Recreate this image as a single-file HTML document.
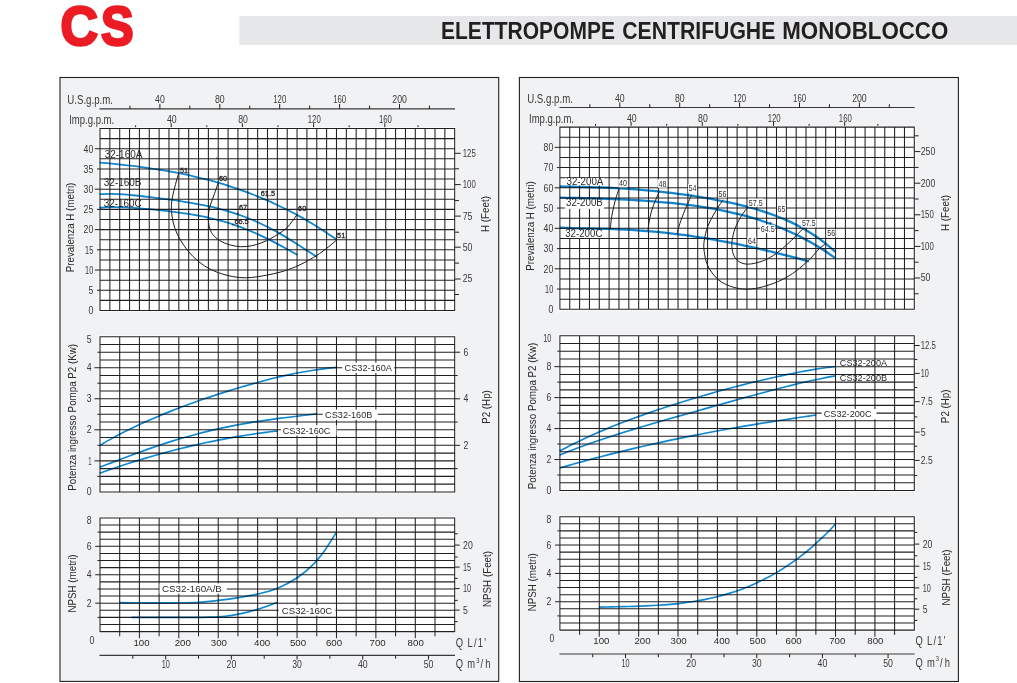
<!DOCTYPE html>
<html><head><meta charset="utf-8"><title>CS - Elettropompe centrifughe monoblocco</title>
<style>html,body{margin:0;padding:0;background:#fff}svg{display:block}text{font-family:"Liberation Sans",sans-serif}</style></head><body>
<svg width="1017" height="683" viewBox="0 0 1017 683">
<rect width="1017" height="683" fill="#fff"/>
<rect x="239.3" y="15.9" width="777.7" height="28.9" fill="#e6e7e8"/>
<text y="44.6" font-size="54.8" font-weight="bold" fill="#ec1c24" stroke="#ec1c24" stroke-width="2.6" stroke-linejoin="miter"><tspan x="60.6" textLength="37.5" lengthAdjust="spacingAndGlyphs">C</tspan><tspan x="101.0" textLength="32.6" lengthAdjust="spacingAndGlyphs">S</tspan></text>
<text font-size="23.8" font-weight="bold" fill="#231f20" y="38.7"><tspan x="441.0" textLength="174.0" lengthAdjust="spacingAndGlyphs">ELETTROPOMPE</tspan> <tspan x="622.3" textLength="153.0" lengthAdjust="spacingAndGlyphs">CENTRIFUGHE</tspan> <tspan x="782.3" textLength="166.0" lengthAdjust="spacingAndGlyphs">MONOBLOCCO</tspan></text>
<rect x="60" y="77.5" width="438.7" height="603.9" fill="#f1f2f4" stroke="#231f20" stroke-width="1.1"/>
<line x1="99.5" y1="108.9" x2="455" y2="108.9" stroke="#3a3838" stroke-width="1.2"/>
<line x1="129.95" y1="108.9" x2="129.95" y2="105.6" stroke="#231f20" stroke-width="1.0"/>
<line x1="159.9" y1="108.9" x2="159.9" y2="103.9" stroke="#231f20" stroke-width="1.0"/>
<text transform="translate(155.1 102.96)" font-size="10.6" text-anchor="start" fill="#3b3938" textLength="9.7" lengthAdjust="spacingAndGlyphs">40</text>
<line x1="189.85" y1="108.9" x2="189.85" y2="105.6" stroke="#231f20" stroke-width="1.0"/>
<line x1="219.8" y1="108.9" x2="219.8" y2="103.9" stroke="#231f20" stroke-width="1.0"/>
<text transform="translate(215 102.96)" font-size="10.6" text-anchor="start" fill="#3b3938" textLength="9.7" lengthAdjust="spacingAndGlyphs">80</text>
<line x1="249.75" y1="108.9" x2="249.75" y2="105.6" stroke="#231f20" stroke-width="1.0"/>
<line x1="279.7" y1="108.9" x2="279.7" y2="103.9" stroke="#231f20" stroke-width="1.0"/>
<text transform="translate(273.25 102.96)" font-size="10.6" text-anchor="start" fill="#3b3938" textLength="13" lengthAdjust="spacingAndGlyphs">120</text>
<line x1="309.65" y1="108.9" x2="309.65" y2="105.6" stroke="#231f20" stroke-width="1.0"/>
<line x1="339.6" y1="108.9" x2="339.6" y2="103.9" stroke="#231f20" stroke-width="1.0"/>
<text transform="translate(333.15 102.96)" font-size="10.6" text-anchor="start" fill="#3b3938" textLength="13" lengthAdjust="spacingAndGlyphs">160</text>
<line x1="369.55" y1="108.9" x2="369.55" y2="105.6" stroke="#231f20" stroke-width="1.0"/>
<line x1="399.5" y1="108.9" x2="399.5" y2="103.9" stroke="#231f20" stroke-width="1.0"/>
<text transform="translate(392.28 102.96)" font-size="10.6" text-anchor="start" fill="#3b3938" textLength="14.55" lengthAdjust="spacingAndGlyphs">200</text>
<line x1="429.45" y1="108.9" x2="429.45" y2="105.6" stroke="#231f20" stroke-width="1.0"/>
<text transform="translate(67.3 103.9)" font-size="12.3" text-anchor="start" fill="#3b3938" textLength="45.7" lengthAdjust="spacingAndGlyphs">U.S.g.p.m.</text>
<text transform="translate(69.2 124.2)" font-size="12.3" text-anchor="start" fill="#3b3938" textLength="45" lengthAdjust="spacingAndGlyphs">Imp.g.p.m.</text>
<line x1="135.6" y1="128.5" x2="135.6" y2="125.3" stroke="#231f20" stroke-width="1.0"/>
<line x1="171.2" y1="128.5" x2="171.2" y2="123.3" stroke="#231f20" stroke-width="1.0"/>
<text transform="translate(167 123.01)" font-size="10.6" text-anchor="start" fill="#3b3938" textLength="9.7" lengthAdjust="spacingAndGlyphs">40</text>
<line x1="206.8" y1="128.5" x2="206.8" y2="125.3" stroke="#231f20" stroke-width="1.0"/>
<line x1="242.4" y1="128.5" x2="242.4" y2="123.3" stroke="#231f20" stroke-width="1.0"/>
<text transform="translate(238.2 123.01)" font-size="10.6" text-anchor="start" fill="#3b3938" textLength="9.7" lengthAdjust="spacingAndGlyphs">80</text>
<line x1="278" y1="128.5" x2="278" y2="125.3" stroke="#231f20" stroke-width="1.0"/>
<line x1="313.6" y1="128.5" x2="313.6" y2="123.3" stroke="#231f20" stroke-width="1.0"/>
<text transform="translate(307.75 123.01)" font-size="10.6" text-anchor="start" fill="#3b3938" textLength="13" lengthAdjust="spacingAndGlyphs">120</text>
<line x1="349.2" y1="128.5" x2="349.2" y2="125.3" stroke="#231f20" stroke-width="1.0"/>
<line x1="384.8" y1="128.5" x2="384.8" y2="123.3" stroke="#231f20" stroke-width="1.0"/>
<text transform="translate(378.95 123.01)" font-size="10.6" text-anchor="start" fill="#3b3938" textLength="13" lengthAdjust="spacingAndGlyphs">160</text>
<line x1="418" y1="128.5" x2="418" y2="125.3" stroke="#231f20" stroke-width="1.0"/>
<rect x="98.7" y="127.2" width="357.3" height="184.6" fill="#fff"/>
<text transform="translate(104.7 157.7)" font-size="10" text-anchor="start" fill="#2b2a29" textLength="37.7" lengthAdjust="spacingAndGlyphs">32-160A</text>
<text transform="translate(103.8 186.4)" font-size="10" text-anchor="start" fill="#2b2a29" textLength="37.7" lengthAdjust="spacingAndGlyphs">32-160B</text>
<text transform="translate(103.8 206.9)" font-size="10" text-anchor="start" fill="#2b2a29" textLength="37.9" lengthAdjust="spacingAndGlyphs">32-160C</text>
<path d="M100 128V311M109.85 128V311M119.71 128V311M129.56 128V311M139.41 128V311M149.26 128V311M159.12 128V311M168.97 128V311M178.82 128V311M188.68 128V311M198.53 128V311M208.38 128V311M218.23 128V311M228.09 128V311M237.94 128V311M247.79 128V311M257.64 128V311M267.5 128V311M277.35 128V311M287.2 128V311M297.06 128V311M306.91 128V311M316.76 128V311M326.61 128V311M336.47 128V311M346.32 128V311M356.17 128V311M366.02 128V311M375.88 128V311M385.73 128V311M395.58 128V311M405.44 128V311M415.29 128V311M425.14 128V311M434.99 128V311M444.85 128V311M454.7 128V311M99.5 128.5H455.2M99.5 138.61H455.2M99.5 148.72H455.2M99.5 158.83H455.2M99.5 168.94H455.2M99.5 179.06H455.2M99.5 189.17H455.2M99.5 199.28H455.2M99.5 209.39H455.2M99.5 219.5H455.2M99.5 229.61H455.2M99.5 239.72H455.2M99.5 249.83H455.2M99.5 259.94H455.2M99.5 270.06H455.2M99.5 280.17H455.2M99.5 290.28H455.2M99.5 300.39H455.2M99.5 310.5H455.2" stroke="#231f20" stroke-width="1.05" fill="none"/>
<rect x="98.7" y="335.4" width="357.3" height="157.8" fill="#fff"/>
<path d="M100 336.2V492.4M119.71 336.2V492.4M139.41 336.2V492.4M159.12 336.2V492.4M178.82 336.2V492.4M198.53 336.2V492.4M218.23 336.2V492.4M237.94 336.2V492.4M257.64 336.2V492.4M277.35 336.2V492.4M297.06 336.2V492.4M316.76 336.2V492.4M336.47 336.2V492.4M356.17 336.2V492.4M375.88 336.2V492.4M395.58 336.2V492.4M415.29 336.2V492.4M434.99 336.2V492.4M454.7 336.2V492.4M99.5 336.7H455.2M99.5 344.46H455.2M99.5 352.22H455.2M99.5 359.98H455.2M99.5 367.74H455.2M99.5 375.5H455.2M99.5 383.26H455.2M99.5 391.02H455.2M99.5 398.78H455.2M99.5 406.54H455.2M99.5 414.3H455.2M99.5 422.06H455.2M99.5 429.82H455.2M99.5 437.58H455.2M99.5 445.34H455.2M99.5 453.1H455.2M99.5 460.86H455.2M99.5 468.62H455.2M99.5 476.38H455.2M99.5 484.14H455.2M99.5 491.9H455.2" stroke="#231f20" stroke-width="1.05" fill="none"/>
<rect x="98.7" y="516.6" width="357.3" height="116.3" fill="#fff"/>
<path d="M100 517.4V632.1M119.71 517.4V632.1M139.41 517.4V632.1M159.12 517.4V632.1M178.82 517.4V632.1M198.53 517.4V632.1M218.23 517.4V632.1M237.94 517.4V632.1M257.64 517.4V632.1M277.35 517.4V632.1M297.06 517.4V632.1M316.76 517.4V632.1M336.47 517.4V632.1M356.17 517.4V632.1M375.88 517.4V632.1M395.58 517.4V632.1M415.29 517.4V632.1M434.99 517.4V632.1M454.7 517.4V632.1M99.5 517.9H455.2M99.5 525.01H455.2M99.5 532.11H455.2M99.5 539.22H455.2M99.5 546.33H455.2M99.5 553.43H455.2M99.5 560.54H455.2M99.5 567.64H455.2M99.5 574.75H455.2M99.5 581.86H455.2M99.5 588.96H455.2M99.5 596.07H455.2M99.5 603.17H455.2M99.5 610.28H455.2M99.5 617.39H455.2M99.5 624.49H455.2M99.5 631.6H455.2" stroke="#231f20" stroke-width="1.05" fill="none"/>
<line x1="94.8" y1="148.72" x2="100" y2="148.72" stroke="#231f20" stroke-width="1.0"/>
<text transform="translate(83.55 152.58)" font-size="10.6" text-anchor="start" fill="#3b3938" textLength="9.7" lengthAdjust="spacingAndGlyphs">40</text>
<line x1="97" y1="168.94" x2="100" y2="168.94" stroke="#231f20" stroke-width="1.0"/>
<text transform="translate(83.55 172.8)" font-size="10.6" text-anchor="start" fill="#3b3938" textLength="9.7" lengthAdjust="spacingAndGlyphs">35</text>
<line x1="94.8" y1="189.17" x2="100" y2="189.17" stroke="#231f20" stroke-width="1.0"/>
<text transform="translate(83.55 193.02)" font-size="10.6" text-anchor="start" fill="#3b3938" textLength="9.7" lengthAdjust="spacingAndGlyphs">30</text>
<line x1="97" y1="209.39" x2="100" y2="209.39" stroke="#231f20" stroke-width="1.0"/>
<text transform="translate(83.55 213.25)" font-size="10.6" text-anchor="start" fill="#3b3938" textLength="9.7" lengthAdjust="spacingAndGlyphs">25</text>
<line x1="94.8" y1="229.61" x2="100" y2="229.61" stroke="#231f20" stroke-width="1.0"/>
<text transform="translate(83.55 233.47)" font-size="10.6" text-anchor="start" fill="#3b3938" textLength="9.7" lengthAdjust="spacingAndGlyphs">20</text>
<line x1="97" y1="249.83" x2="100" y2="249.83" stroke="#231f20" stroke-width="1.0"/>
<text transform="translate(85.1 253.69)" font-size="10.6" text-anchor="start" fill="#3b3938" textLength="8.15" lengthAdjust="spacingAndGlyphs">15</text>
<line x1="94.8" y1="270.06" x2="100" y2="270.06" stroke="#231f20" stroke-width="1.0"/>
<text transform="translate(85.1 273.91)" font-size="10.6" text-anchor="start" fill="#3b3938" textLength="8.15" lengthAdjust="spacingAndGlyphs">10</text>
<line x1="97" y1="290.28" x2="100" y2="290.28" stroke="#231f20" stroke-width="1.0"/>
<text transform="translate(88.4 294.13)" font-size="10.6" text-anchor="start" fill="#3b3938" textLength="4.85" lengthAdjust="spacingAndGlyphs">5</text>
<text transform="translate(88.4 314.36)" font-size="10.6" text-anchor="start" fill="#3b3938" textLength="4.85" lengthAdjust="spacingAndGlyphs">0</text>
<text transform="translate(86.8 342.76)" font-size="10.6" text-anchor="start" fill="#3b3938" textLength="4.85" lengthAdjust="spacingAndGlyphs">5</text>
<line x1="97.4" y1="352.22" x2="100" y2="352.22" stroke="#231f20" stroke-width="1.0"/>
<line x1="94.4" y1="367.74" x2="100" y2="367.74" stroke="#231f20" stroke-width="1.0"/>
<text transform="translate(86.8 371.4)" font-size="10.6" text-anchor="start" fill="#3b3938" textLength="4.85" lengthAdjust="spacingAndGlyphs">4</text>
<line x1="97.4" y1="383.26" x2="100" y2="383.26" stroke="#231f20" stroke-width="1.0"/>
<line x1="94.4" y1="398.78" x2="100" y2="398.78" stroke="#231f20" stroke-width="1.0"/>
<text transform="translate(86.8 402.44)" font-size="10.6" text-anchor="start" fill="#3b3938" textLength="4.85" lengthAdjust="spacingAndGlyphs">3</text>
<line x1="97.4" y1="414.3" x2="100" y2="414.3" stroke="#231f20" stroke-width="1.0"/>
<line x1="94.4" y1="429.82" x2="100" y2="429.82" stroke="#231f20" stroke-width="1.0"/>
<text transform="translate(86.8 433.48)" font-size="10.6" text-anchor="start" fill="#3b3938" textLength="4.85" lengthAdjust="spacingAndGlyphs">2</text>
<line x1="97.4" y1="445.34" x2="100" y2="445.34" stroke="#231f20" stroke-width="1.0"/>
<line x1="94.4" y1="460.86" x2="100" y2="460.86" stroke="#231f20" stroke-width="1.0"/>
<text transform="translate(88.35 464.52)" font-size="10.6" text-anchor="start" fill="#3b3938" textLength="3.3" lengthAdjust="spacingAndGlyphs">1</text>
<line x1="97.4" y1="476.38" x2="100" y2="476.38" stroke="#231f20" stroke-width="1.0"/>
<text transform="translate(86.8 495.26)" font-size="10.6" text-anchor="start" fill="#3b3938" textLength="4.85" lengthAdjust="spacingAndGlyphs">0</text>
<text transform="translate(86.8 523.86)" font-size="10.6" text-anchor="start" fill="#3b3938" textLength="4.85" lengthAdjust="spacingAndGlyphs">8</text>
<line x1="97.5" y1="532.11" x2="100" y2="532.11" stroke="#231f20" stroke-width="1.0"/>
<line x1="95.2" y1="546.33" x2="100" y2="546.33" stroke="#231f20" stroke-width="1.0"/>
<text transform="translate(86.8 549.98)" font-size="10.6" text-anchor="start" fill="#3b3938" textLength="4.85" lengthAdjust="spacingAndGlyphs">6</text>
<line x1="97.5" y1="560.54" x2="100" y2="560.54" stroke="#231f20" stroke-width="1.0"/>
<line x1="95.2" y1="574.75" x2="100" y2="574.75" stroke="#231f20" stroke-width="1.0"/>
<text transform="translate(86.8 578.41)" font-size="10.6" text-anchor="start" fill="#3b3938" textLength="4.85" lengthAdjust="spacingAndGlyphs">4</text>
<line x1="97.5" y1="588.96" x2="100" y2="588.96" stroke="#231f20" stroke-width="1.0"/>
<line x1="95.2" y1="603.17" x2="100" y2="603.17" stroke="#231f20" stroke-width="1.0"/>
<text transform="translate(86.8 606.83)" font-size="10.6" text-anchor="start" fill="#3b3938" textLength="4.85" lengthAdjust="spacingAndGlyphs">2</text>
<line x1="97.5" y1="617.39" x2="100" y2="617.39" stroke="#231f20" stroke-width="1.0"/>
<line x1="454.7" y1="294.5" x2="459" y2="294.5" stroke="#231f20" stroke-width="1.0"/>
<line x1="454.7" y1="279" x2="460.7" y2="279" stroke="#231f20" stroke-width="1.0"/>
<text transform="translate(462.75 282.46)" font-size="10.6" text-anchor="start" fill="#3b3938" textLength="9.7" lengthAdjust="spacingAndGlyphs">25</text>
<line x1="454.7" y1="263.1" x2="459" y2="263.1" stroke="#231f20" stroke-width="1.0"/>
<line x1="454.7" y1="247.2" x2="460.7" y2="247.2" stroke="#231f20" stroke-width="1.0"/>
<text transform="translate(462.75 250.66)" font-size="10.6" text-anchor="start" fill="#3b3938" textLength="9.7" lengthAdjust="spacingAndGlyphs">50</text>
<line x1="454.7" y1="232.2" x2="459" y2="232.2" stroke="#231f20" stroke-width="1.0"/>
<line x1="454.7" y1="216.1" x2="460.7" y2="216.1" stroke="#231f20" stroke-width="1.0"/>
<text transform="translate(462.75 219.56)" font-size="10.6" text-anchor="start" fill="#3b3938" textLength="9.7" lengthAdjust="spacingAndGlyphs">75</text>
<line x1="454.7" y1="200.6" x2="459" y2="200.6" stroke="#231f20" stroke-width="1.0"/>
<line x1="454.7" y1="184.6" x2="460.7" y2="184.6" stroke="#231f20" stroke-width="1.0"/>
<text transform="translate(462.75 188.06)" font-size="10.6" text-anchor="start" fill="#3b3938" textLength="13" lengthAdjust="spacingAndGlyphs">100</text>
<line x1="454.7" y1="168.8" x2="459" y2="168.8" stroke="#231f20" stroke-width="1.0"/>
<line x1="454.7" y1="153.3" x2="460.7" y2="153.3" stroke="#231f20" stroke-width="1.0"/>
<text transform="translate(462.75 156.76)" font-size="10.6" text-anchor="start" fill="#3b3938" textLength="13" lengthAdjust="spacingAndGlyphs">125</text>
<line x1="454.7" y1="468.62" x2="457.7" y2="468.62" stroke="#231f20" stroke-width="1.0"/>
<line x1="454.7" y1="445.34" x2="460.1" y2="445.34" stroke="#231f20" stroke-width="1.0"/>
<text transform="translate(463.55 449)" font-size="10.6" text-anchor="start" fill="#3b3938" textLength="4.85" lengthAdjust="spacingAndGlyphs">2</text>
<line x1="454.7" y1="422.06" x2="457.7" y2="422.06" stroke="#231f20" stroke-width="1.0"/>
<line x1="454.7" y1="398.78" x2="460.1" y2="398.78" stroke="#231f20" stroke-width="1.0"/>
<text transform="translate(463.55 402.44)" font-size="10.6" text-anchor="start" fill="#3b3938" textLength="4.85" lengthAdjust="spacingAndGlyphs">4</text>
<line x1="454.7" y1="375.5" x2="457.7" y2="375.5" stroke="#231f20" stroke-width="1.0"/>
<line x1="454.7" y1="352.22" x2="460.1" y2="352.22" stroke="#231f20" stroke-width="1.0"/>
<text transform="translate(463.55 355.88)" font-size="10.6" text-anchor="start" fill="#3b3938" textLength="4.85" lengthAdjust="spacingAndGlyphs">6</text>
<line x1="454.7" y1="621.6" x2="457.7" y2="621.6" stroke="#231f20" stroke-width="1.0"/>
<line x1="454.7" y1="610.1" x2="459.7" y2="610.1" stroke="#231f20" stroke-width="1.0"/>
<text transform="translate(463.05 613.76)" font-size="10.6" text-anchor="start" fill="#3b3938" textLength="4.85" lengthAdjust="spacingAndGlyphs">5</text>
<line x1="454.7" y1="600.4" x2="457.7" y2="600.4" stroke="#231f20" stroke-width="1.0"/>
<line x1="454.7" y1="588.6" x2="459.7" y2="588.6" stroke="#231f20" stroke-width="1.0"/>
<text transform="translate(463.05 592.26)" font-size="10.6" text-anchor="start" fill="#3b3938" textLength="8.15" lengthAdjust="spacingAndGlyphs">10</text>
<line x1="454.7" y1="578.4" x2="457.7" y2="578.4" stroke="#231f20" stroke-width="1.0"/>
<line x1="454.7" y1="567.1" x2="459.7" y2="567.1" stroke="#231f20" stroke-width="1.0"/>
<text transform="translate(463.05 570.76)" font-size="10.6" text-anchor="start" fill="#3b3938" textLength="8.15" lengthAdjust="spacingAndGlyphs">15</text>
<line x1="454.7" y1="557" x2="457.7" y2="557" stroke="#231f20" stroke-width="1.0"/>
<line x1="454.7" y1="545.1" x2="459.7" y2="545.1" stroke="#231f20" stroke-width="1.0"/>
<text transform="translate(463.05 548.76)" font-size="10.6" text-anchor="start" fill="#3b3938" textLength="9.7" lengthAdjust="spacingAndGlyphs">20</text>
<line x1="454.7" y1="533.8" x2="457.7" y2="533.8" stroke="#231f20" stroke-width="1.0"/>
<line x1="119.71" y1="631.6" x2="119.71" y2="636.3" stroke="#231f20" stroke-width="1.0"/>
<line x1="139.41" y1="631.6" x2="139.41" y2="638.2" stroke="#231f20" stroke-width="1.0"/>
<text transform="translate(141.51 645.8)" font-size="9.7" text-anchor="middle" fill="#2b2a29">100</text>
<line x1="159.12" y1="631.6" x2="159.12" y2="636.3" stroke="#231f20" stroke-width="1.0"/>
<line x1="178.82" y1="631.6" x2="178.82" y2="638.2" stroke="#231f20" stroke-width="1.0"/>
<text transform="translate(182.72 645.8)" font-size="9.7" text-anchor="middle" fill="#2b2a29">200</text>
<line x1="198.53" y1="631.6" x2="198.53" y2="636.3" stroke="#231f20" stroke-width="1.0"/>
<line x1="218.23" y1="631.6" x2="218.23" y2="638.2" stroke="#231f20" stroke-width="1.0"/>
<text transform="translate(218.83 645.8)" font-size="9.7" text-anchor="middle" fill="#2b2a29">300</text>
<line x1="237.94" y1="631.6" x2="237.94" y2="636.3" stroke="#231f20" stroke-width="1.0"/>
<line x1="257.64" y1="631.6" x2="257.64" y2="638.2" stroke="#231f20" stroke-width="1.0"/>
<text transform="translate(262.14 645.8)" font-size="9.7" text-anchor="middle" fill="#2b2a29">400</text>
<line x1="277.35" y1="631.6" x2="277.35" y2="636.3" stroke="#231f20" stroke-width="1.0"/>
<line x1="297.06" y1="631.6" x2="297.06" y2="638.2" stroke="#231f20" stroke-width="1.0"/>
<text transform="translate(297.96 645.8)" font-size="9.7" text-anchor="middle" fill="#2b2a29">500</text>
<line x1="316.76" y1="631.6" x2="316.76" y2="636.3" stroke="#231f20" stroke-width="1.0"/>
<line x1="336.47" y1="631.6" x2="336.47" y2="638.2" stroke="#231f20" stroke-width="1.0"/>
<text transform="translate(333.97 645.8)" font-size="9.7" text-anchor="middle" fill="#2b2a29">600</text>
<line x1="356.17" y1="631.6" x2="356.17" y2="636.3" stroke="#231f20" stroke-width="1.0"/>
<line x1="375.88" y1="631.6" x2="375.88" y2="638.2" stroke="#231f20" stroke-width="1.0"/>
<text transform="translate(377.58 645.8)" font-size="9.7" text-anchor="middle" fill="#2b2a29">700</text>
<line x1="395.58" y1="631.6" x2="395.58" y2="636.3" stroke="#231f20" stroke-width="1.0"/>
<line x1="415.29" y1="631.6" x2="415.29" y2="638.2" stroke="#231f20" stroke-width="1.0"/>
<text transform="translate(415.69 645.8)" font-size="9.7" text-anchor="middle" fill="#2b2a29">800</text>
<line x1="434.99" y1="631.6" x2="434.99" y2="636.3" stroke="#231f20" stroke-width="1.0"/>
<text transform="translate(89.4 643.86)" font-size="10.6" text-anchor="start" fill="#3b3938" textLength="4.85" lengthAdjust="spacingAndGlyphs">0</text>
<line x1="99.5" y1="655.4" x2="455" y2="655.4" stroke="#3a3838" stroke-width="1.1"/>
<line x1="132.84" y1="655.4" x2="132.84" y2="658.7" stroke="#231f20" stroke-width="1.0"/>
<line x1="165.69" y1="655.4" x2="165.69" y2="659.6" stroke="#231f20" stroke-width="1.0"/>
<text transform="translate(161.66 668.06)" font-size="10.6" text-anchor="start" fill="#3b3938" textLength="8.15" lengthAdjust="spacingAndGlyphs">10</text>
<line x1="198.53" y1="655.4" x2="198.53" y2="658.7" stroke="#231f20" stroke-width="1.0"/>
<line x1="231.37" y1="655.4" x2="231.37" y2="659.6" stroke="#231f20" stroke-width="1.0"/>
<text transform="translate(226.57 668.06)" font-size="10.6" text-anchor="start" fill="#3b3938" textLength="9.7" lengthAdjust="spacingAndGlyphs">20</text>
<line x1="264.21" y1="655.4" x2="264.21" y2="658.7" stroke="#231f20" stroke-width="1.0"/>
<line x1="297.06" y1="655.4" x2="297.06" y2="659.6" stroke="#231f20" stroke-width="1.0"/>
<text transform="translate(292.26 668.06)" font-size="10.6" text-anchor="start" fill="#3b3938" textLength="9.7" lengthAdjust="spacingAndGlyphs">30</text>
<line x1="329.9" y1="655.4" x2="329.9" y2="658.7" stroke="#231f20" stroke-width="1.0"/>
<line x1="362.74" y1="655.4" x2="362.74" y2="659.6" stroke="#231f20" stroke-width="1.0"/>
<text transform="translate(357.94 668.06)" font-size="10.6" text-anchor="start" fill="#3b3938" textLength="9.7" lengthAdjust="spacingAndGlyphs">40</text>
<line x1="395.58" y1="655.4" x2="395.58" y2="658.7" stroke="#231f20" stroke-width="1.0"/>
<line x1="428.43" y1="655.4" x2="428.43" y2="659.6" stroke="#231f20" stroke-width="1.0"/>
<text transform="translate(423.63 668.06)" font-size="10.6" text-anchor="start" fill="#3b3938" textLength="9.7" lengthAdjust="spacingAndGlyphs">50</text>
<text transform="translate(455.8 646.6) scale(0.775 1)" font-size="12.1" fill="#3b3938" letter-spacing="1.6" word-spacing="-0.9">Q L/1'</text>
<text transform="translate(455.8 667.9) scale(0.775 1)" font-size="12.1" fill="#3b3938" letter-spacing="1.3" word-spacing="-0.5">Q m<tspan font-size="7.6" dy="-5.2">3</tspan><tspan dy="5.2">/</tspan><tspan dx="1.6">h</tspan></text>
<text transform="translate(74.2 227.5) rotate(-90) scale(0.924 1)" font-size="10.6" text-anchor="middle" fill="#2b2a29">Prevalenza H (metri)</text>
<text transform="translate(76.2 417.3) rotate(-90) scale(0.924 1)" font-size="10.6" text-anchor="middle" fill="#2b2a29">Potenza ingresso Pompa P2 (Kw)</text>
<text transform="translate(76.4 583.5) rotate(-90) scale(0.924 1)" font-size="10.6" text-anchor="middle" fill="#2b2a29">NPSH (metri)</text>
<text transform="translate(489.3 214) rotate(-90) scale(0.924 1)" font-size="10.6" text-anchor="middle" fill="#2b2a29">H (Feet)</text>
<text transform="translate(490.2 407) rotate(-90) scale(0.924 1)" font-size="10.6" text-anchor="middle" fill="#2b2a29">P2 (Hp)</text>
<text transform="translate(491.2 579) rotate(-90) scale(0.924 1)" font-size="10.6" text-anchor="middle" fill="#2b2a29">NPSH (Feet)</text>
<rect x="519.4" y="77.5" width="439" height="604" fill="#f1f2f4" stroke="#231f20" stroke-width="1.1"/>
<line x1="559.4" y1="107.5" x2="914.6" y2="107.5" stroke="#3a3838" stroke-width="1.2"/>
<line x1="589.85" y1="107.5" x2="589.85" y2="104.2" stroke="#231f20" stroke-width="1.0"/>
<line x1="619.8" y1="107.5" x2="619.8" y2="102.5" stroke="#231f20" stroke-width="1.0"/>
<text transform="translate(615 101.56)" font-size="10.6" text-anchor="start" fill="#3b3938" textLength="9.7" lengthAdjust="spacingAndGlyphs">40</text>
<line x1="649.75" y1="107.5" x2="649.75" y2="104.2" stroke="#231f20" stroke-width="1.0"/>
<line x1="679.7" y1="107.5" x2="679.7" y2="102.5" stroke="#231f20" stroke-width="1.0"/>
<text transform="translate(674.9 101.56)" font-size="10.6" text-anchor="start" fill="#3b3938" textLength="9.7" lengthAdjust="spacingAndGlyphs">80</text>
<line x1="709.65" y1="107.5" x2="709.65" y2="104.2" stroke="#231f20" stroke-width="1.0"/>
<line x1="739.6" y1="107.5" x2="739.6" y2="102.5" stroke="#231f20" stroke-width="1.0"/>
<text transform="translate(733.15 101.56)" font-size="10.6" text-anchor="start" fill="#3b3938" textLength="13" lengthAdjust="spacingAndGlyphs">120</text>
<line x1="769.55" y1="107.5" x2="769.55" y2="104.2" stroke="#231f20" stroke-width="1.0"/>
<line x1="799.5" y1="107.5" x2="799.5" y2="102.5" stroke="#231f20" stroke-width="1.0"/>
<text transform="translate(793.05 101.56)" font-size="10.6" text-anchor="start" fill="#3b3938" textLength="13" lengthAdjust="spacingAndGlyphs">160</text>
<line x1="829.45" y1="107.5" x2="829.45" y2="104.2" stroke="#231f20" stroke-width="1.0"/>
<line x1="859.4" y1="107.5" x2="859.4" y2="102.5" stroke="#231f20" stroke-width="1.0"/>
<text transform="translate(852.17 101.56)" font-size="10.6" text-anchor="start" fill="#3b3938" textLength="14.55" lengthAdjust="spacingAndGlyphs">200</text>
<line x1="889.35" y1="107.5" x2="889.35" y2="104.2" stroke="#231f20" stroke-width="1.0"/>
<text transform="translate(527.2 102.9)" font-size="12.3" text-anchor="start" fill="#3b3938" textLength="45.7" lengthAdjust="spacingAndGlyphs">U.S.g.p.m.</text>
<text transform="translate(529 123.2)" font-size="12.3" text-anchor="start" fill="#3b3938" textLength="45" lengthAdjust="spacingAndGlyphs">Imp.g.p.m.</text>
<line x1="595.5" y1="127.1" x2="595.5" y2="123.9" stroke="#231f20" stroke-width="1.0"/>
<line x1="631.1" y1="127.1" x2="631.1" y2="121.9" stroke="#231f20" stroke-width="1.0"/>
<text transform="translate(626.9 121.61)" font-size="10.6" text-anchor="start" fill="#3b3938" textLength="9.7" lengthAdjust="spacingAndGlyphs">40</text>
<line x1="666.7" y1="127.1" x2="666.7" y2="123.9" stroke="#231f20" stroke-width="1.0"/>
<line x1="702.3" y1="127.1" x2="702.3" y2="121.9" stroke="#231f20" stroke-width="1.0"/>
<text transform="translate(698.1 121.61)" font-size="10.6" text-anchor="start" fill="#3b3938" textLength="9.7" lengthAdjust="spacingAndGlyphs">80</text>
<line x1="737.9" y1="127.1" x2="737.9" y2="123.9" stroke="#231f20" stroke-width="1.0"/>
<line x1="773.5" y1="127.1" x2="773.5" y2="121.9" stroke="#231f20" stroke-width="1.0"/>
<text transform="translate(767.65 121.61)" font-size="10.6" text-anchor="start" fill="#3b3938" textLength="13" lengthAdjust="spacingAndGlyphs">120</text>
<line x1="809.1" y1="127.1" x2="809.1" y2="123.9" stroke="#231f20" stroke-width="1.0"/>
<line x1="844.7" y1="127.1" x2="844.7" y2="121.9" stroke="#231f20" stroke-width="1.0"/>
<text transform="translate(838.85 121.61)" font-size="10.6" text-anchor="start" fill="#3b3938" textLength="13" lengthAdjust="spacingAndGlyphs">160</text>
<line x1="877.9" y1="127.1" x2="877.9" y2="123.9" stroke="#231f20" stroke-width="1.0"/>
<rect x="558.6" y="125.8" width="357" height="184.8" fill="#fff"/>
<path d="M559.9 126.6V309.8M569.74 126.6V309.8M579.59 126.6V309.8M589.43 126.6V309.8M599.28 126.6V309.8M609.12 126.6V309.8M618.97 126.6V309.8M628.81 126.6V309.8M638.66 126.6V309.8M648.5 126.6V309.8M658.34 126.6V309.8M668.19 126.6V309.8M678.03 126.6V309.8M687.88 126.6V309.8M697.72 126.6V309.8M707.57 126.6V309.8M717.41 126.6V309.8M727.26 126.6V309.8M737.1 126.6V309.8M746.94 126.6V309.8M756.79 126.6V309.8M766.63 126.6V309.8M776.48 126.6V309.8M786.32 126.6V309.8M796.17 126.6V309.8M806.01 126.6V309.8M815.86 126.6V309.8M825.7 126.6V309.8M835.54 126.6V309.8M845.39 126.6V309.8M855.23 126.6V309.8M865.08 126.6V309.8M874.92 126.6V309.8M884.77 126.6V309.8M894.61 126.6V309.8M904.46 126.6V309.8M914.3 126.6V309.8M559.4 127.1H914.8M559.4 137.22H914.8M559.4 147.34H914.8M559.4 157.47H914.8M559.4 167.59H914.8M559.4 177.71H914.8M559.4 187.83H914.8M559.4 197.96H914.8M559.4 208.08H914.8M559.4 218.2H914.8M559.4 228.32H914.8M559.4 238.44H914.8M559.4 248.57H914.8M559.4 258.69H914.8M559.4 268.81H914.8M559.4 278.93H914.8M559.4 289.06H914.8M559.4 299.18H914.8M559.4 309.3H914.8" stroke="#231f20" stroke-width="1.05" fill="none"/>
<rect x="558.6" y="334.4" width="357" height="157.4" fill="#fff"/>
<text transform="translate(839.8 365.9)" font-size="9.3" text-anchor="start" fill="#2b2a29" textLength="47.3" lengthAdjust="spacingAndGlyphs">CS32-200A</text>
<text transform="translate(839.8 381.3)" font-size="9.3" text-anchor="start" fill="#2b2a29" textLength="47.3" lengthAdjust="spacingAndGlyphs">CS32-200B</text>
<path d="M559.9 335.2V491M579.59 335.2V491M599.28 335.2V491M618.97 335.2V491M638.66 335.2V491M658.34 335.2V491M678.03 335.2V491M697.72 335.2V491M717.41 335.2V491M737.1 335.2V491M756.79 335.2V491M776.48 335.2V491M796.17 335.2V491M815.86 335.2V491M835.54 335.2V491M855.23 335.2V491M874.92 335.2V491M894.61 335.2V491M914.3 335.2V491M559.4 335.7H914.8M559.4 343.44H914.8M559.4 351.18H914.8M559.4 358.92H914.8M559.4 366.66H914.8M559.4 374.4H914.8M559.4 382.14H914.8M559.4 389.88H914.8M559.4 397.62H914.8M559.4 405.36H914.8M559.4 413.1H914.8M559.4 420.84H914.8M559.4 428.58H914.8M559.4 436.32H914.8M559.4 444.06H914.8M559.4 451.8H914.8M559.4 459.54H914.8M559.4 467.28H914.8M559.4 475.02H914.8M559.4 482.76H914.8M559.4 490.5H914.8" stroke="#231f20" stroke-width="1.05" fill="none"/>
<rect x="558.6" y="515.4" width="357" height="116" fill="#fff"/>
<path d="M559.9 516.2V630.6M579.59 516.2V630.6M599.28 516.2V630.6M618.97 516.2V630.6M638.66 516.2V630.6M658.34 516.2V630.6M678.03 516.2V630.6M697.72 516.2V630.6M717.41 516.2V630.6M737.1 516.2V630.6M756.79 516.2V630.6M776.48 516.2V630.6M796.17 516.2V630.6M815.86 516.2V630.6M835.54 516.2V630.6M855.23 516.2V630.6M874.92 516.2V630.6M894.61 516.2V630.6M914.3 516.2V630.6M559.4 516.7H914.8M559.4 523.79H914.8M559.4 530.88H914.8M559.4 537.96H914.8M559.4 545.05H914.8M559.4 552.14H914.8M559.4 559.23H914.8M559.4 566.31H914.8M559.4 573.4H914.8M559.4 580.49H914.8M559.4 587.58H914.8M559.4 594.66H914.8M559.4 601.75H914.8M559.4 608.84H914.8M559.4 615.93H914.8M559.4 623.01H914.8M559.4 630.1H914.8" stroke="#231f20" stroke-width="1.05" fill="none"/>
<line x1="554.7" y1="147.34" x2="559.9" y2="147.34" stroke="#231f20" stroke-width="1.0"/>
<text transform="translate(543.55 151.2)" font-size="10.6" text-anchor="start" fill="#3b3938" textLength="9.7" lengthAdjust="spacingAndGlyphs">80</text>
<line x1="556.9" y1="167.59" x2="559.9" y2="167.59" stroke="#231f20" stroke-width="1.0"/>
<text transform="translate(543.55 171.45)" font-size="10.6" text-anchor="start" fill="#3b3938" textLength="9.7" lengthAdjust="spacingAndGlyphs">70</text>
<line x1="554.7" y1="187.83" x2="559.9" y2="187.83" stroke="#231f20" stroke-width="1.0"/>
<text transform="translate(543.55 191.69)" font-size="10.6" text-anchor="start" fill="#3b3938" textLength="9.7" lengthAdjust="spacingAndGlyphs">60</text>
<line x1="556.9" y1="208.08" x2="559.9" y2="208.08" stroke="#231f20" stroke-width="1.0"/>
<text transform="translate(543.55 211.93)" font-size="10.6" text-anchor="start" fill="#3b3938" textLength="9.7" lengthAdjust="spacingAndGlyphs">50</text>
<line x1="554.7" y1="228.32" x2="559.9" y2="228.32" stroke="#231f20" stroke-width="1.0"/>
<text transform="translate(543.55 232.18)" font-size="10.6" text-anchor="start" fill="#3b3938" textLength="9.7" lengthAdjust="spacingAndGlyphs">40</text>
<line x1="556.9" y1="248.57" x2="559.9" y2="248.57" stroke="#231f20" stroke-width="1.0"/>
<text transform="translate(543.55 252.42)" font-size="10.6" text-anchor="start" fill="#3b3938" textLength="9.7" lengthAdjust="spacingAndGlyphs">30</text>
<line x1="554.7" y1="268.81" x2="559.9" y2="268.81" stroke="#231f20" stroke-width="1.0"/>
<text transform="translate(543.55 272.67)" font-size="10.6" text-anchor="start" fill="#3b3938" textLength="9.7" lengthAdjust="spacingAndGlyphs">20</text>
<line x1="556.9" y1="289.06" x2="559.9" y2="289.06" stroke="#231f20" stroke-width="1.0"/>
<text transform="translate(545.1 292.91)" font-size="10.6" text-anchor="start" fill="#3b3938" textLength="8.15" lengthAdjust="spacingAndGlyphs">10</text>
<text transform="translate(548.4 313.16)" font-size="10.6" text-anchor="start" fill="#3b3938" textLength="4.85" lengthAdjust="spacingAndGlyphs">0</text>
<text transform="translate(543.3 341.76)" font-size="10.6" text-anchor="start" fill="#3b3938" textLength="8.15" lengthAdjust="spacingAndGlyphs">10</text>
<line x1="557.3" y1="351.18" x2="559.9" y2="351.18" stroke="#231f20" stroke-width="1.0"/>
<line x1="554.3" y1="366.66" x2="559.9" y2="366.66" stroke="#231f20" stroke-width="1.0"/>
<text transform="translate(546.6 370.32)" font-size="10.6" text-anchor="start" fill="#3b3938" textLength="4.85" lengthAdjust="spacingAndGlyphs">8</text>
<line x1="557.3" y1="382.14" x2="559.9" y2="382.14" stroke="#231f20" stroke-width="1.0"/>
<line x1="554.3" y1="397.62" x2="559.9" y2="397.62" stroke="#231f20" stroke-width="1.0"/>
<text transform="translate(546.6 401.28)" font-size="10.6" text-anchor="start" fill="#3b3938" textLength="4.85" lengthAdjust="spacingAndGlyphs">6</text>
<line x1="557.3" y1="413.1" x2="559.9" y2="413.1" stroke="#231f20" stroke-width="1.0"/>
<line x1="554.3" y1="428.58" x2="559.9" y2="428.58" stroke="#231f20" stroke-width="1.0"/>
<text transform="translate(546.6 432.24)" font-size="10.6" text-anchor="start" fill="#3b3938" textLength="4.85" lengthAdjust="spacingAndGlyphs">4</text>
<line x1="557.3" y1="444.06" x2="559.9" y2="444.06" stroke="#231f20" stroke-width="1.0"/>
<line x1="554.3" y1="459.54" x2="559.9" y2="459.54" stroke="#231f20" stroke-width="1.0"/>
<text transform="translate(546.6 463.2)" font-size="10.6" text-anchor="start" fill="#3b3938" textLength="4.85" lengthAdjust="spacingAndGlyphs">2</text>
<line x1="557.3" y1="475.02" x2="559.9" y2="475.02" stroke="#231f20" stroke-width="1.0"/>
<text transform="translate(546.6 493.86)" font-size="10.6" text-anchor="start" fill="#3b3938" textLength="4.85" lengthAdjust="spacingAndGlyphs">0</text>
<text transform="translate(546.6 522.66)" font-size="10.6" text-anchor="start" fill="#3b3938" textLength="4.85" lengthAdjust="spacingAndGlyphs">8</text>
<line x1="557.4" y1="530.88" x2="559.9" y2="530.88" stroke="#231f20" stroke-width="1.0"/>
<line x1="555.1" y1="545.05" x2="559.9" y2="545.05" stroke="#231f20" stroke-width="1.0"/>
<text transform="translate(546.6 548.71)" font-size="10.6" text-anchor="start" fill="#3b3938" textLength="4.85" lengthAdjust="spacingAndGlyphs">6</text>
<line x1="557.4" y1="559.23" x2="559.9" y2="559.23" stroke="#231f20" stroke-width="1.0"/>
<line x1="555.1" y1="573.4" x2="559.9" y2="573.4" stroke="#231f20" stroke-width="1.0"/>
<text transform="translate(546.6 577.06)" font-size="10.6" text-anchor="start" fill="#3b3938" textLength="4.85" lengthAdjust="spacingAndGlyphs">4</text>
<line x1="557.4" y1="587.58" x2="559.9" y2="587.58" stroke="#231f20" stroke-width="1.0"/>
<line x1="555.1" y1="601.75" x2="559.9" y2="601.75" stroke="#231f20" stroke-width="1.0"/>
<text transform="translate(546.6 605.41)" font-size="10.6" text-anchor="start" fill="#3b3938" textLength="4.85" lengthAdjust="spacingAndGlyphs">2</text>
<line x1="557.4" y1="615.92" x2="559.9" y2="615.92" stroke="#231f20" stroke-width="1.0"/>
<line x1="914.3" y1="293.8" x2="918.6" y2="293.8" stroke="#231f20" stroke-width="1.0"/>
<line x1="914.3" y1="278" x2="920.3" y2="278" stroke="#231f20" stroke-width="1.0"/>
<text transform="translate(920.75 281.46)" font-size="10.6" text-anchor="start" fill="#3b3938" textLength="9.7" lengthAdjust="spacingAndGlyphs">50</text>
<line x1="914.3" y1="262.2" x2="918.6" y2="262.2" stroke="#231f20" stroke-width="1.0"/>
<line x1="914.3" y1="246.4" x2="920.3" y2="246.4" stroke="#231f20" stroke-width="1.0"/>
<text transform="translate(920.75 249.86)" font-size="10.6" text-anchor="start" fill="#3b3938" textLength="13" lengthAdjust="spacingAndGlyphs">100</text>
<line x1="914.3" y1="230.6" x2="918.6" y2="230.6" stroke="#231f20" stroke-width="1.0"/>
<line x1="914.3" y1="214.8" x2="920.3" y2="214.8" stroke="#231f20" stroke-width="1.0"/>
<text transform="translate(920.75 218.26)" font-size="10.6" text-anchor="start" fill="#3b3938" textLength="13" lengthAdjust="spacingAndGlyphs">150</text>
<line x1="914.3" y1="199" x2="918.6" y2="199" stroke="#231f20" stroke-width="1.0"/>
<line x1="914.3" y1="183.2" x2="920.3" y2="183.2" stroke="#231f20" stroke-width="1.0"/>
<text transform="translate(920.75 186.66)" font-size="10.6" text-anchor="start" fill="#3b3938" textLength="14.55" lengthAdjust="spacingAndGlyphs">200</text>
<line x1="914.3" y1="167.4" x2="918.6" y2="167.4" stroke="#231f20" stroke-width="1.0"/>
<line x1="914.3" y1="151.6" x2="920.3" y2="151.6" stroke="#231f20" stroke-width="1.0"/>
<text transform="translate(920.75 155.06)" font-size="10.6" text-anchor="start" fill="#3b3938" textLength="14.55" lengthAdjust="spacingAndGlyphs">250</text>
<line x1="914.3" y1="135.8" x2="918.6" y2="135.8" stroke="#231f20" stroke-width="1.0"/>
<line x1="914.3" y1="345.5" x2="919.7" y2="345.5" stroke="#231f20" stroke-width="1.0"/>
<text transform="translate(920.75 349.16)" font-size="10.6" text-anchor="start" fill="#3b3938" textLength="15.2" lengthAdjust="spacingAndGlyphs">12.5</text>
<line x1="914.3" y1="359.45" x2="917.3" y2="359.45" stroke="#231f20" stroke-width="1.0"/>
<line x1="914.3" y1="373.4" x2="919.7" y2="373.4" stroke="#231f20" stroke-width="1.0"/>
<text transform="translate(920.75 377.06)" font-size="10.6" text-anchor="start" fill="#3b3938" textLength="8.15" lengthAdjust="spacingAndGlyphs">10</text>
<line x1="914.3" y1="387.55" x2="917.3" y2="387.55" stroke="#231f20" stroke-width="1.0"/>
<line x1="914.3" y1="401.7" x2="919.7" y2="401.7" stroke="#231f20" stroke-width="1.0"/>
<text transform="translate(920.75 405.36)" font-size="10.6" text-anchor="start" fill="#3b3938" textLength="11.9" lengthAdjust="spacingAndGlyphs">7.5</text>
<line x1="914.3" y1="416.9" x2="917.3" y2="416.9" stroke="#231f20" stroke-width="1.0"/>
<line x1="914.3" y1="432.1" x2="919.7" y2="432.1" stroke="#231f20" stroke-width="1.0"/>
<text transform="translate(920.75 435.76)" font-size="10.6" text-anchor="start" fill="#3b3938" textLength="4.85" lengthAdjust="spacingAndGlyphs">5</text>
<line x1="914.3" y1="446.25" x2="917.3" y2="446.25" stroke="#231f20" stroke-width="1.0"/>
<line x1="914.3" y1="460.4" x2="919.7" y2="460.4" stroke="#231f20" stroke-width="1.0"/>
<text transform="translate(920.75 464.06)" font-size="10.6" text-anchor="start" fill="#3b3938" textLength="11.9" lengthAdjust="spacingAndGlyphs">2.5</text>
<line x1="914.3" y1="475.5" x2="917.3" y2="475.5" stroke="#231f20" stroke-width="1.0"/>
<line x1="914.3" y1="620.4" x2="917.3" y2="620.4" stroke="#231f20" stroke-width="1.0"/>
<line x1="914.3" y1="609.2" x2="919.3" y2="609.2" stroke="#231f20" stroke-width="1.0"/>
<text transform="translate(922.65 612.86)" font-size="10.6" text-anchor="start" fill="#3b3938" textLength="4.85" lengthAdjust="spacingAndGlyphs">5</text>
<line x1="914.3" y1="598.8" x2="917.3" y2="598.8" stroke="#231f20" stroke-width="1.0"/>
<line x1="914.3" y1="587.9" x2="919.3" y2="587.9" stroke="#231f20" stroke-width="1.0"/>
<text transform="translate(922.65 591.56)" font-size="10.6" text-anchor="start" fill="#3b3938" textLength="8.15" lengthAdjust="spacingAndGlyphs">10</text>
<line x1="914.3" y1="577.4" x2="917.3" y2="577.4" stroke="#231f20" stroke-width="1.0"/>
<line x1="914.3" y1="566.2" x2="919.3" y2="566.2" stroke="#231f20" stroke-width="1.0"/>
<text transform="translate(922.65 569.86)" font-size="10.6" text-anchor="start" fill="#3b3938" textLength="8.15" lengthAdjust="spacingAndGlyphs">15</text>
<line x1="914.3" y1="555.8" x2="917.3" y2="555.8" stroke="#231f20" stroke-width="1.0"/>
<line x1="914.3" y1="544.1" x2="919.3" y2="544.1" stroke="#231f20" stroke-width="1.0"/>
<text transform="translate(922.65 547.76)" font-size="10.6" text-anchor="start" fill="#3b3938" textLength="9.7" lengthAdjust="spacingAndGlyphs">20</text>
<line x1="914.3" y1="532.4" x2="917.3" y2="532.4" stroke="#231f20" stroke-width="1.0"/>
<line x1="579.59" y1="630.1" x2="579.59" y2="634.8" stroke="#231f20" stroke-width="1.0"/>
<line x1="599.28" y1="630.1" x2="599.28" y2="636.7" stroke="#231f20" stroke-width="1.0"/>
<text transform="translate(601.38 644.3)" font-size="9.7" text-anchor="middle" fill="#2b2a29">100</text>
<line x1="618.97" y1="630.1" x2="618.97" y2="634.8" stroke="#231f20" stroke-width="1.0"/>
<line x1="638.66" y1="630.1" x2="638.66" y2="636.7" stroke="#231f20" stroke-width="1.0"/>
<text transform="translate(642.56 644.3)" font-size="9.7" text-anchor="middle" fill="#2b2a29">200</text>
<line x1="658.34" y1="630.1" x2="658.34" y2="634.8" stroke="#231f20" stroke-width="1.0"/>
<line x1="678.03" y1="630.1" x2="678.03" y2="636.7" stroke="#231f20" stroke-width="1.0"/>
<text transform="translate(678.63 644.3)" font-size="9.7" text-anchor="middle" fill="#2b2a29">300</text>
<line x1="697.72" y1="630.1" x2="697.72" y2="634.8" stroke="#231f20" stroke-width="1.0"/>
<line x1="717.41" y1="630.1" x2="717.41" y2="636.7" stroke="#231f20" stroke-width="1.0"/>
<text transform="translate(721.91 644.3)" font-size="9.7" text-anchor="middle" fill="#2b2a29">400</text>
<line x1="737.1" y1="630.1" x2="737.1" y2="634.8" stroke="#231f20" stroke-width="1.0"/>
<line x1="756.79" y1="630.1" x2="756.79" y2="636.7" stroke="#231f20" stroke-width="1.0"/>
<text transform="translate(757.69 644.3)" font-size="9.7" text-anchor="middle" fill="#2b2a29">500</text>
<line x1="776.48" y1="630.1" x2="776.48" y2="634.8" stroke="#231f20" stroke-width="1.0"/>
<line x1="796.17" y1="630.1" x2="796.17" y2="636.7" stroke="#231f20" stroke-width="1.0"/>
<text transform="translate(793.67 644.3)" font-size="9.7" text-anchor="middle" fill="#2b2a29">600</text>
<line x1="815.86" y1="630.1" x2="815.86" y2="634.8" stroke="#231f20" stroke-width="1.0"/>
<line x1="835.54" y1="630.1" x2="835.54" y2="636.7" stroke="#231f20" stroke-width="1.0"/>
<text transform="translate(837.24 644.3)" font-size="9.7" text-anchor="middle" fill="#2b2a29">700</text>
<line x1="855.23" y1="630.1" x2="855.23" y2="634.8" stroke="#231f20" stroke-width="1.0"/>
<line x1="874.92" y1="630.1" x2="874.92" y2="636.7" stroke="#231f20" stroke-width="1.0"/>
<text transform="translate(875.32 644.3)" font-size="9.7" text-anchor="middle" fill="#2b2a29">800</text>
<line x1="894.61" y1="630.1" x2="894.61" y2="634.8" stroke="#231f20" stroke-width="1.0"/>
<text transform="translate(549.4 642.36)" font-size="10.6" text-anchor="start" fill="#3b3938" textLength="4.85" lengthAdjust="spacingAndGlyphs">0</text>
<line x1="559.4" y1="654" x2="914.6" y2="654" stroke="#3a3838" stroke-width="1.1"/>
<line x1="592.71" y1="654" x2="592.71" y2="657.3" stroke="#231f20" stroke-width="1.0"/>
<line x1="625.53" y1="654" x2="625.53" y2="658.2" stroke="#231f20" stroke-width="1.0"/>
<text transform="translate(621.5 666.66)" font-size="10.6" text-anchor="start" fill="#3b3938" textLength="8.15" lengthAdjust="spacingAndGlyphs">10</text>
<line x1="658.34" y1="654" x2="658.34" y2="657.3" stroke="#231f20" stroke-width="1.0"/>
<line x1="691.16" y1="654" x2="691.16" y2="658.2" stroke="#231f20" stroke-width="1.0"/>
<text transform="translate(686.36 666.66)" font-size="10.6" text-anchor="start" fill="#3b3938" textLength="9.7" lengthAdjust="spacingAndGlyphs">20</text>
<line x1="723.97" y1="654" x2="723.97" y2="657.3" stroke="#231f20" stroke-width="1.0"/>
<line x1="756.79" y1="654" x2="756.79" y2="658.2" stroke="#231f20" stroke-width="1.0"/>
<text transform="translate(751.99 666.66)" font-size="10.6" text-anchor="start" fill="#3b3938" textLength="9.7" lengthAdjust="spacingAndGlyphs">30</text>
<line x1="789.6" y1="654" x2="789.6" y2="657.3" stroke="#231f20" stroke-width="1.0"/>
<line x1="822.42" y1="654" x2="822.42" y2="658.2" stroke="#231f20" stroke-width="1.0"/>
<text transform="translate(817.62 666.66)" font-size="10.6" text-anchor="start" fill="#3b3938" textLength="9.7" lengthAdjust="spacingAndGlyphs">40</text>
<line x1="855.23" y1="654" x2="855.23" y2="657.3" stroke="#231f20" stroke-width="1.0"/>
<line x1="888.05" y1="654" x2="888.05" y2="658.2" stroke="#231f20" stroke-width="1.0"/>
<text transform="translate(883.25 666.66)" font-size="10.6" text-anchor="start" fill="#3b3938" textLength="9.7" lengthAdjust="spacingAndGlyphs">50</text>
<text transform="translate(915.4 645.1) scale(0.775 1)" font-size="12.1" fill="#3b3938" letter-spacing="1.6" word-spacing="-0.9">Q L/1'</text>
<text transform="translate(915.4 666.5) scale(0.775 1)" font-size="12.1" fill="#3b3938" letter-spacing="1.3" word-spacing="-0.5">Q m<tspan font-size="7.6" dy="-5.2">3</tspan><tspan dy="5.2">/</tspan><tspan dx="1.6">h</tspan></text>
<text transform="translate(533.9 226) rotate(-90) scale(0.924 1)" font-size="10.6" text-anchor="middle" fill="#2b2a29">Prevalenza H (metri)</text>
<text transform="translate(536 416) rotate(-90) scale(0.924 1)" font-size="10.6" text-anchor="middle" fill="#2b2a29">Potenza ingresso Pompa P2 (Kw)</text>
<text transform="translate(536 582.3) rotate(-90) scale(0.924 1)" font-size="10.6" text-anchor="middle" fill="#2b2a29">NPSH (metri)</text>
<text transform="translate(948.6 213) rotate(-90) scale(0.924 1)" font-size="10.6" text-anchor="middle" fill="#2b2a29">H (Feet)</text>
<text transform="translate(948.6 406.3) rotate(-90) scale(0.924 1)" font-size="10.6" text-anchor="middle" fill="#2b2a29">P2 (Hp)</text>
<text transform="translate(949.6 577.5) rotate(-90) scale(0.924 1)" font-size="10.6" text-anchor="middle" fill="#2b2a29">NPSH (Feet)</text>
<path d="M99.7 162.56C101.67 162.74 107.59 163.25 111.54 163.63C115.49 164.01 119.43 164.41 123.38 164.84C127.33 165.27 131.27 165.73 135.22 166.22C139.17 166.71 143.11 167.23 147.06 167.79C151.01 168.36 154.95 168.95 158.9 169.59C162.85 170.23 166.79 170.9 170.74 171.63C174.69 172.35 178.63 173.12 182.58 173.93C186.53 174.75 190.47 175.61 194.42 176.53C198.37 177.45 202.31 178.42 206.26 179.45C210.21 180.48 214.15 181.56 218.1 182.71C222.05 183.86 225.99 185.06 229.94 186.33C233.89 187.61 237.83 188.94 241.78 190.35C245.73 191.76 249.67 193.23 253.62 194.78C257.57 196.33 261.51 197.95 265.46 199.65C269.41 201.35 273.35 203.13 277.3 204.99C281.25 206.85 285.19 208.79 289.14 210.82C293.09 212.84 297.03 214.95 300.98 217.15C304.93 219.36 308.87 221.65 312.82 224.03C316.77 226.42 320.71 228.89 324.66 231.47C328.61 234.05 334.53 238.16 336.5 239.5" fill="none" stroke="#0e88d0" stroke-width="1.8" stroke-linecap="butt" style="mix-blend-mode:multiply"/>
<path d="M99.7 194.26C101.71 194.2 107.75 193.9 111.77 193.93C115.8 193.96 119.82 194.19 123.84 194.45C127.87 194.72 131.89 195.1 135.92 195.5C139.94 195.89 143.96 196.36 147.99 196.83C152.01 197.3 156.04 197.81 160.06 198.34C164.09 198.86 168.11 199.41 172.13 199.98C176.16 200.56 180.18 201.14 184.21 201.79C188.23 202.43 192.25 203.09 196.28 203.83C200.3 204.57 204.33 205.34 208.35 206.22C212.37 207.1 216.4 208.03 220.42 209.09C224.45 210.14 228.47 211.28 232.49 212.56C236.52 213.84 240.54 215.22 244.57 216.75C248.59 218.28 252.61 219.93 256.64 221.73C260.66 223.53 264.69 225.47 268.71 227.54C272.74 229.61 276.76 231.83 280.78 234.14C284.81 236.46 288.83 238.92 292.86 241.42C296.88 243.92 300.9 246.55 304.93 249.15C308.95 251.75 314.99 255.7 317 257.01" fill="none" stroke="#0e88d0" stroke-width="1.8" stroke-linecap="butt" style="mix-blend-mode:multiply"/>
<path d="M99.7 207.73C101.76 207.65 107.94 207.25 112.06 207.2C116.18 207.14 120.29 207.27 124.41 207.43C128.53 207.58 132.65 207.85 136.77 208.14C140.89 208.42 145.01 208.78 149.12 209.15C153.24 209.53 157.36 209.95 161.48 210.4C165.6 210.85 169.72 211.34 173.84 211.87C177.96 212.41 182.07 212.97 186.19 213.62C190.31 214.26 194.43 214.94 198.55 215.73C202.67 216.51 206.79 217.35 210.91 218.31C215.03 219.27 219.14 220.31 223.26 221.49C227.38 222.66 231.5 223.94 235.62 225.35C239.74 226.76 243.86 228.3 247.97 229.96C252.09 231.63 256.21 233.43 260.33 235.34C264.45 237.24 268.57 239.3 272.69 241.41C276.81 243.53 280.93 245.79 285.04 248.05C289.16 250.31 295.34 253.83 297.4 254.98" fill="none" stroke="#0e88d0" stroke-width="1.8" stroke-linecap="butt" style="mix-blend-mode:multiply"/>
<path d="M178.8 172.9C178.25 174.8 176.52 180.48 175.5 184.3C174.48 188.12 173.38 192.28 172.7 195.8C172.02 199.32 171.52 202.03 171.4 205.4C171.28 208.77 171.42 212.18 172 216C172.58 219.82 173.53 224.35 174.9 228.3C176.27 232.25 178 235.9 180.2 239.7C182.4 243.5 185.02 247.43 188.1 251.1C191.18 254.77 194.88 258.62 198.7 261.7C202.52 264.78 206.62 267.42 211 269.6C215.38 271.78 220.32 273.48 225 274.8C229.68 276.12 234.7 277.05 239.1 277.5C243.5 277.95 247.02 277.85 251.4 277.5C255.78 277.15 260.47 276.33 265.4 275.4C270.33 274.47 275.93 273.35 281 271.9C286.07 270.45 291.37 268.55 295.8 266.7C300.23 264.85 303.67 262.97 307.6 260.8C311.53 258.63 315.87 256.07 319.4 253.7C322.93 251.33 325.95 248.87 328.8 246.6C331.65 244.33 335.22 241.18 336.5 240.1" fill="none" stroke="#1d1a1b" stroke-width="1.0" stroke-linecap="butt"/>
<path d="M218.3 182.6C217.6 184.65 215.53 190.8 214.1 194.9C212.67 199 210.67 203.4 209.7 207.2C208.73 211 208.38 214.48 208.3 217.7C208.22 220.92 208.47 223.72 209.2 226.5C209.93 229.28 210.93 232.05 212.7 234.4C214.47 236.75 216.87 238.83 219.8 240.6C222.73 242.37 226.8 243.98 230.3 245C233.8 246.02 237.28 246.57 240.8 246.7C244.32 246.83 247.88 246.47 251.4 245.8C254.92 245.13 258.68 243.92 261.9 242.7C265.12 241.48 268 239.92 270.7 238.5C273.4 237.08 275.48 235.9 278.1 234.2C280.72 232.5 284.03 230.47 286.4 228.3C288.77 226.13 290.53 223.47 292.3 221.2C294.07 218.93 296.22 215.78 297 214.7" fill="none" stroke="#1d1a1b" stroke-width="1.0" stroke-linecap="butt"/>
<text transform="translate(180 172.77) scale(0.95 1)" font-size="7.7" text-anchor="start" fill="#231f20" stroke="#231f20" stroke-width="0.3">51</text>
<text transform="translate(218.9 181.37) scale(0.95 1)" font-size="7.7" text-anchor="start" fill="#231f20" stroke="#231f20" stroke-width="0.3">60</text>
<text transform="translate(260.8 196.37) scale(0.95 1)" font-size="7.7" text-anchor="start" fill="#231f20" stroke="#231f20" stroke-width="0.3">61.5</text>
<text transform="translate(239 210.47) scale(0.95 1)" font-size="7.7" text-anchor="start" fill="#231f20" stroke="#231f20" stroke-width="0.3">67</text>
<text transform="translate(234.4 224.07) scale(0.95 1)" font-size="7.7" text-anchor="start" fill="#231f20" stroke="#231f20" stroke-width="0.3">66.5</text>
<text transform="translate(298.1 211.47) scale(0.95 1)" font-size="7.7" text-anchor="start" fill="#231f20" stroke="#231f20" stroke-width="0.3">60</text>
<text transform="translate(337.1 237.97) scale(0.95 1)" font-size="7.7" text-anchor="start" fill="#231f20" stroke="#231f20" stroke-width="0.3">51</text>
<circle cx="216.8" cy="158.2" r="0.8" fill="#231f20"/>
<circle cx="237.8" cy="213" r="0.8" fill="#231f20"/>
<circle cx="232.9" cy="224.6" r="0.8" fill="#231f20"/>
<rect x="342.3" y="362.7" width="51.9" height="10.3" fill="#fff"/>
<text transform="translate(344.6 371)" font-size="9.3" text-anchor="start" fill="#2b2a29" textLength="47.3" lengthAdjust="spacingAndGlyphs">CS32-160A</text>
<rect x="322.8" y="409.6" width="54.9" height="10.3" fill="#fff"/>
<text transform="translate(325.1 417.9)" font-size="9.3" text-anchor="start" fill="#2b2a29" textLength="47.3" lengthAdjust="spacingAndGlyphs">CS32-160B</text>
<rect x="280.9" y="425.2" width="55.6" height="10.3" fill="#fff"/>
<text transform="translate(282.7 433.5)" font-size="9.3" text-anchor="start" fill="#2b2a29" textLength="47.7" lengthAdjust="spacingAndGlyphs">CS32-160C</text>
<path d="M99.8 445.43C101.78 444.3 107.71 440.82 111.66 438.64C115.61 436.46 119.57 434.37 123.52 432.35C127.47 430.33 131.43 428.4 135.38 426.52C139.33 424.63 143.29 422.83 147.24 421.06C151.19 419.3 155.15 417.6 159.1 415.95C163.05 414.29 167.01 412.69 170.96 411.12C174.91 409.56 178.87 408.04 182.82 406.56C186.77 405.07 190.73 403.63 194.68 402.22C198.63 400.8 202.59 399.43 206.54 398.08C210.49 396.74 214.45 395.42 218.4 394.14C222.35 392.86 226.31 391.6 230.26 390.38C234.21 389.16 238.17 387.97 242.12 386.81C246.07 385.65 250.03 384.52 253.98 383.43C257.93 382.34 261.89 381.28 265.84 380.26C269.79 379.24 273.75 378.25 277.7 377.32C281.65 376.38 285.61 375.48 289.56 374.63C293.51 373.79 297.47 372.99 301.42 372.25C305.37 371.51 309.33 370.82 313.28 370.21C317.23 369.59 321.19 369.03 325.14 368.56C329.09 368.08 335.02 367.56 337 367.36" fill="none" stroke="#0e88d0" stroke-width="1.65" stroke-linecap="butt" style="mix-blend-mode:multiply"/>
<path d="M99.8 467.33C101.81 466.54 107.84 464.17 111.87 462.61C115.89 461.06 119.91 459.5 123.93 457.98C127.96 456.46 131.98 454.95 136 453.48C140.02 452.01 144.04 450.56 148.07 449.15C152.09 447.74 156.11 446.37 160.13 445.03C164.16 443.7 168.18 442.4 172.2 441.15C176.22 439.9 180.24 438.7 184.27 437.53C188.29 436.37 192.31 435.26 196.33 434.19C200.36 433.12 204.38 432.1 208.4 431.13C212.42 430.16 216.44 429.23 220.47 428.35C224.49 427.47 228.51 426.64 232.53 425.85C236.56 425.06 240.58 424.31 244.6 423.6C248.62 422.9 252.64 422.23 256.67 421.6C260.69 420.97 264.71 420.37 268.73 419.81C272.76 419.24 276.78 418.7 280.8 418.19C284.82 417.67 288.84 417.18 292.87 416.7C296.89 416.22 300.91 415.76 304.93 415.29C308.96 414.83 314.99 414.14 317 413.91" fill="none" stroke="#0e88d0" stroke-width="1.65" stroke-linecap="butt" style="mix-blend-mode:multiply"/>
<path d="M99.8 473.24C101.78 472.54 107.71 470.41 111.66 469.04C115.61 467.67 119.57 466.34 123.52 465.04C127.47 463.73 131.43 462.47 135.38 461.23C139.33 459.99 143.29 458.79 147.24 457.62C151.19 456.45 155.15 455.31 159.1 454.21C163.05 453.1 167.01 452.03 170.96 450.99C174.91 449.95 178.87 448.95 182.82 447.97C186.77 447 190.73 446.06 194.68 445.15C198.63 444.24 202.59 443.37 206.54 442.53C210.49 441.68 214.45 440.87 218.4 440.1C222.35 439.32 226.31 438.58 230.26 437.87C234.21 437.15 238.17 436.48 242.12 435.83C246.07 435.18 250.03 434.57 253.98 433.99C257.93 433.41 261.89 432.87 265.84 432.35C269.79 431.84 275.72 431.15 277.7 430.91" fill="none" stroke="#0e88d0" stroke-width="1.65" stroke-linecap="butt" style="mix-blend-mode:multiply"/>
<rect x="159.6" y="583.4" width="67.2" height="10.3" fill="#fff"/>
<text transform="translate(161.9 591.7)" font-size="9.8" text-anchor="start" fill="#2b2a29" textLength="60" lengthAdjust="spacingAndGlyphs">CS32-160A/B</text>
<rect x="278.7" y="605.3" width="56.7" height="10.3" fill="#fff"/>
<text transform="translate(281.8 613.6)" font-size="9.8" text-anchor="start" fill="#2b2a29" textLength="50.5" lengthAdjust="spacingAndGlyphs">CS32-160C</text>
<path d="M119.4 602.6C122.83 602.63 133.23 602.75 140 602.8C146.77 602.85 153.33 602.9 160 602.9C166.67 602.9 173.58 602.88 180 602.8C186.42 602.72 192.07 602.8 198.5 602.4C204.93 602 211.92 601.2 218.6 600.4C225.28 599.6 232.12 598.65 238.6 597.6C245.08 596.55 251 595.67 257.5 594.1C264 592.53 270.92 590.97 277.6 588.2C284.28 585.43 291.7 581.43 297.6 577.5C303.5 573.57 308.48 569.12 313 564.6C317.52 560.08 320.78 555.8 324.7 550.4C328.62 545 334.53 535.23 336.5 532.2" fill="none" stroke="#0e88d0" stroke-width="1.65" stroke-linecap="butt" style="mix-blend-mode:multiply"/>
<path d="M131.5 617.3C136.25 617.32 150.25 617.38 160 617.4C169.75 617.42 181.67 617.45 190 617.4C198.33 617.35 204.17 617.3 210 617.1C215.83 616.9 220.23 616.7 225 616.2C229.77 615.7 233.18 615.23 238.6 614.1C244.02 612.97 251 611.37 257.5 609.4C264 607.43 274.25 603.48 277.6 602.3" fill="none" stroke="#0e88d0" stroke-width="1.65" stroke-linecap="butt" style="mix-blend-mode:multiply"/>
<rect x="565.2" y="178" width="39.2" height="7.5" fill="#fff"/>
<text transform="translate(566.5 185.3)" font-size="10.2" text-anchor="start" fill="#2b2a29" textLength="36.8" lengthAdjust="spacingAndGlyphs">32-200A</text>
<rect x="564.8" y="199.5" width="39.4" height="9.4" fill="#fff"/>
<text transform="translate(566 206.4)" font-size="10.2" text-anchor="start" fill="#2b2a29" textLength="36.8" lengthAdjust="spacingAndGlyphs">32-200B</text>
<rect x="564" y="229.9" width="39.6" height="8.1" fill="#fff"/>
<text transform="translate(565.2 236.8)" font-size="10.2" text-anchor="start" fill="#2b2a29" textLength="37.2" lengthAdjust="spacingAndGlyphs">32-200C</text>
<path d="M559.8 186.49C561.8 186.53 567.79 186.65 571.79 186.74C575.78 186.82 579.78 186.89 583.77 186.99C587.77 187.09 591.77 187.19 595.76 187.32C599.76 187.44 603.75 187.59 607.75 187.76C611.74 187.93 615.74 188.13 619.73 188.35C623.73 188.58 627.73 188.83 631.72 189.12C635.72 189.41 639.71 189.72 643.71 190.07C647.7 190.41 651.7 190.79 655.7 191.2C659.69 191.61 663.69 192.05 667.68 192.52C671.68 192.99 675.67 193.49 679.67 194.03C683.67 194.56 687.66 195.13 691.66 195.73C695.65 196.33 699.65 196.97 703.64 197.64C707.64 198.32 711.63 199.02 715.63 199.78C719.63 200.54 723.62 201.33 727.62 202.18C731.61 203.03 735.61 203.93 739.6 204.89C743.6 205.86 747.6 206.88 751.59 207.99C755.59 209.11 759.58 210.28 763.58 211.57C767.57 212.86 771.57 214.23 775.57 215.75C779.56 217.26 783.56 218.88 787.55 220.67C791.55 222.47 795.54 224.38 799.54 226.52C803.53 228.66 807.53 230.95 811.53 233.51C815.52 236.08 819.52 238.82 823.51 241.9C827.51 244.98 833.5 250.31 835.5 251.99" fill="none" stroke="#0e88d0" stroke-width="2.3" stroke-linecap="butt" style="mix-blend-mode:multiply"/>
<path d="M559.8 197.7C561.8 197.73 567.79 197.8 571.79 197.87C575.78 197.94 579.78 198.02 583.77 198.12C587.77 198.21 591.77 198.32 595.76 198.44C599.76 198.57 603.75 198.7 607.75 198.85C611.74 199 615.74 199.17 619.73 199.36C623.73 199.54 627.73 199.74 631.72 199.97C635.72 200.19 639.71 200.44 643.71 200.71C647.7 200.98 651.7 201.27 655.7 201.59C659.69 201.92 663.69 202.26 667.68 202.65C671.68 203.03 675.67 203.45 679.67 203.91C683.67 204.36 687.66 204.85 691.66 205.4C695.65 205.94 699.65 206.52 703.64 207.15C707.64 207.79 711.63 208.47 715.63 209.22C719.63 209.96 723.62 210.76 727.62 211.63C731.61 212.5 735.61 213.43 739.6 214.44C743.6 215.45 747.6 216.53 751.59 217.7C755.59 218.87 759.58 220.12 763.58 221.47C767.57 222.82 771.57 224.25 775.57 225.79C779.56 227.34 783.56 228.98 787.55 230.75C791.55 232.51 795.54 234.38 799.54 236.39C803.53 238.4 807.53 240.52 811.53 242.8C815.52 245.07 819.52 247.48 823.51 250.05C827.51 252.62 833.5 256.85 835.5 258.21" fill="none" stroke="#0e88d0" stroke-width="2.3" stroke-linecap="butt" style="mix-blend-mode:multiply"/>
<path d="M559.8 227.75C561.78 227.8 567.71 227.96 571.66 228.05C575.62 228.14 579.57 228.22 583.52 228.3C587.48 228.39 591.43 228.47 595.39 228.57C599.34 228.67 603.29 228.78 607.25 228.91C611.2 229.04 615.16 229.19 619.11 229.36C623.06 229.54 627.02 229.74 630.97 229.97C634.93 230.2 638.88 230.46 642.83 230.75C646.79 231.04 650.74 231.36 654.7 231.72C658.65 232.08 662.6 232.47 666.56 232.9C670.51 233.33 674.47 233.79 678.42 234.28C682.37 234.78 686.33 235.31 690.28 235.88C694.23 236.44 698.19 237.04 702.14 237.68C706.1 238.31 710.05 238.97 714 239.67C717.96 240.36 721.91 241.09 725.87 241.85C729.82 242.6 733.77 243.39 737.73 244.2C741.68 245.01 745.64 245.85 749.59 246.71C753.54 247.57 757.5 248.46 761.45 249.37C765.41 250.28 769.36 251.22 773.31 252.17C777.27 253.13 781.22 254.11 785.18 255.1C789.13 256.1 793.08 257.12 797.04 258.16C800.99 259.2 806.92 260.81 808.9 261.34" fill="none" stroke="#0e88d0" stroke-width="2.3" stroke-linecap="butt" style="mix-blend-mode:multiply"/>
<path d="M619.1 188.3C618.45 190.37 616.38 196.27 615.2 200.7C614.02 205.13 612.83 210.18 612 214.9C611.17 219.62 610.5 226.65 610.2 229" fill="none" stroke="#1d1a1b" stroke-width="1.0" stroke-linecap="butt"/>
<path d="M659.4 191.5C658.37 193.92 654.82 201.52 653.2 206C651.58 210.48 650.58 214.27 649.7 218.4C648.82 222.53 648.2 228.73 647.9 230.8" fill="none" stroke="#1d1a1b" stroke-width="1.0" stroke-linecap="butt"/>
<path d="M691.6 194.9C690.52 197.35 687.07 204.8 685.1 209.6C683.13 214.4 681.13 219.63 679.8 223.7C678.47 227.77 677.55 232.28 677.1 234" fill="none" stroke="#1d1a1b" stroke-width="1.0" stroke-linecap="butt"/>
<path d="M723.1 199.7C721.72 201.83 717.37 208.02 714.8 212.5C712.23 216.98 709.47 221.88 707.7 226.6C705.93 231.32 704.78 236.67 704.2 240.8C703.62 244.93 703.62 247.27 704.2 251.4C704.78 255.53 705.65 261.17 707.7 265.6C709.75 270.03 713.25 274.77 716.5 278C719.75 281.23 723.35 283.23 727.2 285C731.05 286.77 735.48 287.95 739.6 288.6C743.72 289.25 747.48 289.35 751.9 288.9C756.32 288.45 761.08 287.43 766.1 285.9C771.12 284.37 776.98 282.2 782 279.7C787.02 277.2 791.47 274.43 796.2 270.9C800.93 267.37 806.57 262.18 810.4 258.5C814.23 254.82 816.62 251.3 819.2 248.8C821.78 246.3 824.78 244.38 825.9 243.5" fill="none" stroke="#1d1a1b" stroke-width="1.0" stroke-linecap="butt"/>
<path d="M748.4 206.6C747.22 208.17 743.52 212.37 741.3 216C739.08 219.63 736.63 224.27 735.1 228.4C733.57 232.53 732.53 236.97 732.1 240.8C731.67 244.63 731.78 248.3 732.5 251.4C733.22 254.5 734.63 257.38 736.4 259.4C738.17 261.42 740.52 262.77 743.1 263.5C745.68 264.23 748.37 264.33 751.9 263.8C755.43 263.27 760.17 262.07 764.3 260.3C768.43 258.53 772.57 256.15 776.7 253.2C780.83 250.25 785.55 245.85 789.1 242.6C792.65 239.35 795.48 236.22 798 233.7C800.52 231.18 803.17 228.53 804.2 227.5" fill="none" stroke="#1d1a1b" stroke-width="1.0" stroke-linecap="butt"/>
<rect x="618.4" y="179.1" width="8.93" height="8.3" fill="#fff"/>
<text transform="translate(619 186.33) scale(0.82 1)" font-size="8.7" text-anchor="start" fill="#2e2c2b">40</text>
<rect x="657.9" y="179.4" width="8.93" height="8.3" fill="#fff"/>
<text transform="translate(658.5 186.63) scale(0.82 1)" font-size="8.7" text-anchor="start" fill="#2e2c2b">48</text>
<rect x="688" y="184.2" width="8.93" height="8.3" fill="#fff"/>
<text transform="translate(688.6 191.43) scale(0.82 1)" font-size="8.7" text-anchor="start" fill="#2e2c2b">54</text>
<rect x="717.9" y="189.3" width="8.93" height="8.3" fill="#fff"/>
<text transform="translate(718.5 196.53) scale(0.82 1)" font-size="8.7" text-anchor="start" fill="#2e2c2b">56</text>
<rect x="748.2" y="198.6" width="14.88" height="8.3" fill="#fff"/>
<text transform="translate(748.8 205.83) scale(0.82 1)" font-size="8.7" text-anchor="start" fill="#2e2c2b">57.5</text>
<rect x="777" y="204.8" width="8.93" height="8.3" fill="#fff"/>
<text transform="translate(777.6 212.03) scale(0.82 1)" font-size="8.7" text-anchor="start" fill="#2e2c2b">65</text>
<rect x="801.3" y="219" width="14.88" height="8.3" fill="#fff"/>
<text transform="translate(801.9 226.23) scale(0.82 1)" font-size="8.7" text-anchor="start" fill="#2e2c2b">57.5</text>
<rect x="826.6" y="229.1" width="8.93" height="8.3" fill="#fff"/>
<text transform="translate(827.2 236.33) scale(0.82 1)" font-size="8.7" text-anchor="start" fill="#2e2c2b">56</text>
<rect x="760.2" y="224.8" width="14.88" height="8.3" fill="#fff"/>
<text transform="translate(760.8 232.03) scale(0.82 1)" font-size="8.7" text-anchor="start" fill="#2e2c2b">64.5</text>
<rect x="747.4" y="236.3" width="8.93" height="8.3" fill="#fff"/>
<text transform="translate(748 243.53) scale(0.82 1)" font-size="8.7" text-anchor="start" fill="#2e2c2b">64</text>
<circle cx="770.5" cy="223.1" r="0.8" fill="#231f20"/>
<rect x="821.6" y="409" width="54.9" height="10.3" fill="#fff"/>
<text transform="translate(823.7 417.3)" font-size="9.3" text-anchor="start" fill="#2b2a29" textLength="47.8" lengthAdjust="spacingAndGlyphs">CS32-200C</text>
<path d="M559.7 450.96C561.7 449.92 567.7 446.73 571.7 444.72C575.71 442.72 579.71 440.79 583.71 438.91C587.71 437.04 591.71 435.23 595.71 433.48C599.71 431.72 603.72 430.02 607.72 428.37C611.72 426.71 615.72 425.11 619.72 423.55C623.72 421.99 627.72 420.47 631.73 418.99C635.73 417.5 639.73 416.06 643.73 414.64C647.73 413.23 651.73 411.85 655.73 410.5C659.74 409.15 663.74 407.83 667.74 406.53C671.74 405.23 675.74 403.96 679.74 402.71C683.74 401.47 687.75 400.24 691.75 399.04C695.75 397.84 699.75 396.66 703.75 395.49C707.75 394.33 711.76 393.19 715.76 392.08C719.76 390.96 723.76 389.86 727.76 388.78C731.76 387.7 735.76 386.64 739.77 385.61C743.77 384.57 747.77 383.56 751.77 382.57C755.77 381.58 759.77 380.62 763.77 379.68C767.78 378.74 771.78 377.82 775.78 376.94C779.78 376.06 783.78 375.2 787.78 374.39C791.78 373.57 795.79 372.78 799.79 372.03C803.79 371.28 807.79 370.57 811.79 369.9C815.79 369.24 819.79 368.61 823.8 368.04C827.8 367.47 833.8 366.74 835.8 366.48" fill="none" stroke="#0e88d0" stroke-width="1.65" stroke-linecap="butt" style="mix-blend-mode:multiply"/>
<path d="M559.7 455.05C561.7 454.24 567.7 451.77 571.7 450.21C575.71 448.65 579.71 447.16 583.71 445.7C587.71 444.24 591.71 442.84 595.71 441.46C599.71 440.08 603.72 438.75 607.72 437.44C611.72 436.13 615.72 434.86 619.72 433.6C623.72 432.34 627.72 431.12 631.73 429.9C635.73 428.69 639.73 427.49 643.73 426.31C647.73 425.12 651.73 423.95 655.73 422.79C659.74 421.63 663.74 420.47 667.74 419.33C671.74 418.18 675.74 417.04 679.74 415.9C683.74 414.76 687.75 413.63 691.75 412.49C695.75 411.36 699.75 410.23 703.75 409.1C707.75 407.97 711.76 406.85 715.76 405.72C719.76 404.6 723.76 403.48 727.76 402.36C731.76 401.25 735.76 400.13 739.77 399.02C743.77 397.92 747.77 396.81 751.77 395.72C755.77 394.63 759.77 393.54 763.77 392.47C767.78 391.4 771.78 390.34 775.78 389.3C779.78 388.26 783.78 387.24 787.78 386.24C791.78 385.24 795.79 384.26 799.79 383.32C803.79 382.37 807.79 381.45 811.79 380.57C815.79 379.7 819.79 378.85 823.8 378.05C827.8 377.26 833.8 376.18 835.8 375.81" fill="none" stroke="#0e88d0" stroke-width="1.65" stroke-linecap="butt" style="mix-blend-mode:multiply"/>
<path d="M559.7 468.06C561.74 467.47 567.85 465.69 571.92 464.53C575.99 463.38 580.07 462.24 584.14 461.13C588.21 460.01 592.28 458.92 596.36 457.84C600.43 456.77 604.5 455.71 608.58 454.67C612.65 453.63 616.72 452.62 620.8 451.61C624.87 450.61 628.94 449.63 633.01 448.67C637.09 447.7 641.16 446.75 645.23 445.82C649.31 444.89 653.38 443.98 657.45 443.08C661.53 442.18 665.6 441.3 669.67 440.43C673.74 439.57 677.82 438.72 681.89 437.88C685.96 437.05 690.04 436.23 694.11 435.42C698.18 434.62 702.26 433.83 706.33 433.05C710.4 432.27 714.47 431.51 718.55 430.76C722.62 430.01 726.69 429.27 730.77 428.55C734.84 427.82 738.91 427.11 742.99 426.42C747.06 425.72 751.13 425.03 755.2 424.35C759.28 423.68 763.35 423.02 767.42 422.36C771.5 421.71 775.57 421.07 779.64 420.44C783.72 419.81 787.79 419.18 791.86 418.57C795.93 417.96 800.01 417.36 804.08 416.77C808.15 416.17 814.26 415.31 816.3 415.02" fill="none" stroke="#0e88d0" stroke-width="1.65" stroke-linecap="butt" style="mix-blend-mode:multiply"/>
<path d="M599 607.16C600.97 607.12 606.89 606.98 610.83 606.89C614.77 606.81 618.72 606.74 622.66 606.64C626.6 606.55 630.55 606.46 634.49 606.33C638.43 606.21 642.38 606.08 646.32 605.9C650.26 605.72 654.21 605.53 658.15 605.27C662.09 605.02 666.04 604.73 669.98 604.37C673.92 604.02 677.87 603.62 681.81 603.14C685.75 602.66 689.7 602.12 693.64 601.49C697.58 600.86 701.53 600.17 705.47 599.37C709.41 598.57 713.36 597.69 717.3 596.69C721.24 595.7 725.19 594.61 729.13 593.4C733.07 592.18 737.02 590.87 740.96 589.41C744.9 587.95 748.85 586.38 752.79 584.66C756.73 582.94 760.68 581.09 764.62 579.08C768.56 577.07 772.51 574.92 776.45 572.59C780.39 570.27 784.34 567.79 788.28 565.13C792.22 562.47 796.17 559.65 800.11 556.63C804.05 553.61 808 550.41 811.94 547.01C815.88 543.6 819.83 540.01 823.77 536.2C827.71 532.39 833.63 526.14 835.6 524.13" fill="none" stroke="#0e88d0" stroke-width="1.65" stroke-linecap="butt" style="mix-blend-mode:multiply"/>
</svg></body></html>
